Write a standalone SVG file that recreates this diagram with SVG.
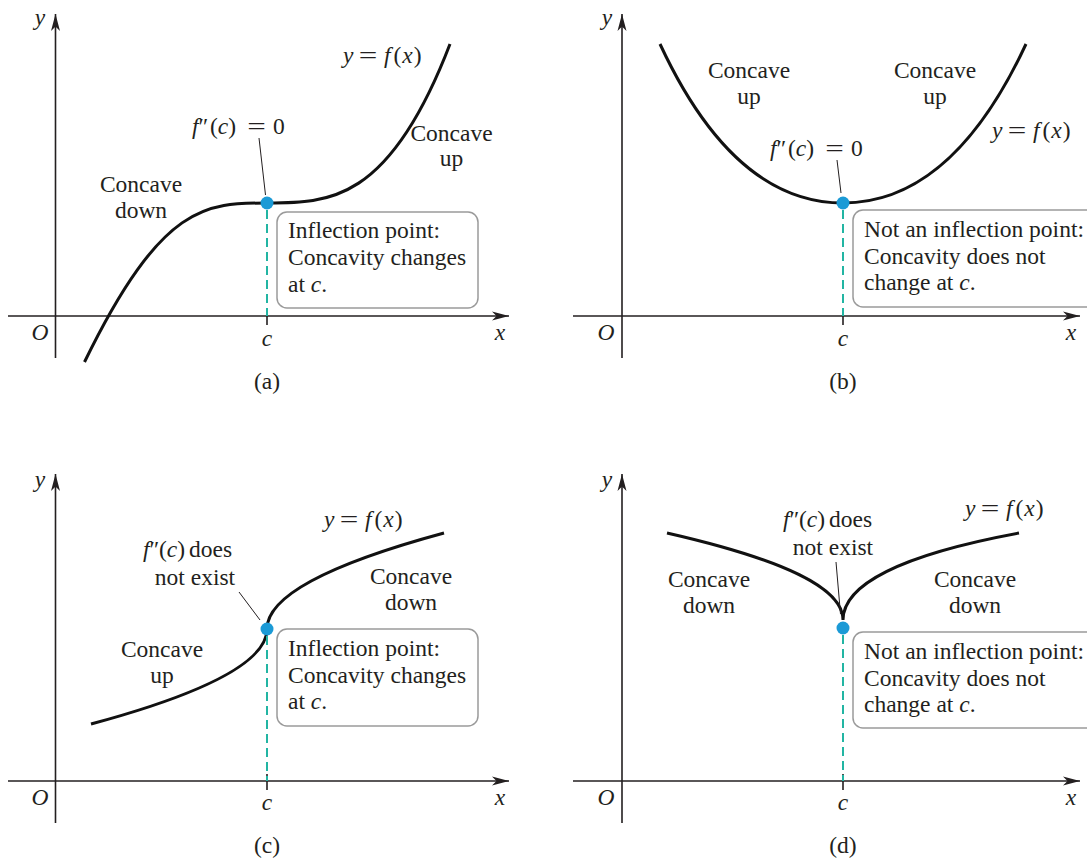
<svg xmlns="http://www.w3.org/2000/svg" width="1087" height="858" viewBox="0 0 1087 858" font-family="'Liberation Serif', 'DejaVu Serif', serif">
<style>
.t{font-family:'Liberation Serif','DejaVu Serif',serif;font-size:23.5px;fill:#231f20}
.i{font-style:italic}
.m{text-anchor:middle}
.ax{stroke:#231f20;stroke-width:1.6;fill:none}
.crv{stroke:#111;stroke-width:3;fill:none;stroke-linecap:butt}
.ld{stroke:#231f20;stroke-width:1;fill:none}
.dash{stroke:#22b5a3;stroke-width:2;stroke-dasharray:9 5;fill:none}
.tick{stroke:#231f20;stroke-width:1.6}
.pt{fill:#1b9ad6}
.box{fill:#fff;stroke:#9a9a9a;stroke-width:1.5}
</style>
<defs>
<marker id="arr" markerUnits="userSpaceOnUse" markerWidth="20" markerHeight="12" viewBox="-18 -6 20 12" refX="0" refY="0" orient="auto">
<path d="M0,0 L-17,-4.5 L-12.5,0 L-17,4.5 Z" fill="#231f20"/>
</marker>
</defs>
<rect width="1087" height="858" fill="#fff"/>

<!-- Panel (a) -->
<g id="panel-a">
<g id="axes-a">
<line class="ax" x1="55.5" y1="358" x2="55.5" y2="14" marker-end="url(#arr)"/>
<line class="ax" x1="8" y1="316" x2="509" y2="316" marker-end="url(#arr)"/>
<line class="tick" x1="267" y1="310" x2="267" y2="325"/>
<text class="t i m" x="40" y="25">y</text>
<text class="t i m" x="40" y="340">O</text>
<text class="t i m" x="500" y="340">x</text>
<text class="t i m" x="267" y="346">c</text>
<text class="t m" x="267" y="389">(a)</text>
</g>
<g id="box-a">
<rect class="box" x="277" y="212" width="201" height="96" rx="10"/>
<text class="t" x="288" y="238">Inflection point:</text>
<text class="t" x="288" y="265">Concavity changes</text>
<text class="t" x="288" y="292">at <tspan class="i">c</tspan>.</text>
</g>
<path class="crv" d="M84.5,362 C162,203 206.3,203 267.25,203 C328.2,203 389.1,203 450,44"/>
<line class="dash" x1="267" y1="210" x2="267" y2="316"/>
<circle class="pt" cx="267" cy="203" r="6.5"/>
<g id="labels-a">
<text class="t m" x="141" y="192">Concave</text>
<text class="t m" x="141" y="218">down</text>
<text class="t m" x="451.5" y="141">Concave</text>
<text class="t m" x="451.5" y="166">up</text>
<text class="t" x="343" y="63"><tspan class="i">y</tspan><tspan x="384" class="i">f</tspan><tspan dx="3">(</tspan><tspan class="i" dx="1">x</tspan><tspan dx="1">)</tspan></text>
<text class="t m" transform="translate(368,63) scale(1.4,1)">=</text>
<text class="t" x="192" y="134"><tspan class="i">f</tspan>″<tspan x="210">(</tspan><tspan class="i">c</tspan>)<tspan x="273">0</tspan></text>
<text class="t m" transform="translate(256.5,134) scale(1.4,1)">=</text>
</g>
</g>

<!-- Panel (b) -->
<g id="panel-b">
<g id="axes-b">
<line class="ax" x1="622" y1="358" x2="622" y2="14" marker-end="url(#arr)"/>
<line class="ax" x1="573" y1="316" x2="1080" y2="316" marker-end="url(#arr)"/>
<line class="tick" x1="843" y1="310" x2="843" y2="325"/>
<text class="t i m" x="607" y="25">y</text>
<text class="t i m" x="606" y="340">O</text>
<text class="t i m" x="1071" y="340">x</text>
<text class="t i m" x="843" y="346">c</text>
<text class="t m" x="843" y="389">(b)</text>
</g>
<g id="box-b">
<rect class="box" x="853" y="210" width="260" height="97" rx="10"/>
<text class="t" x="864" y="237">Not an inflection point:</text>
<text class="t" x="864" y="264">Concavity does not</text>
<text class="t" x="864" y="290">change at <tspan class="i">c</tspan>.</text>
</g>
<path class="crv" d="M660,44 C713,158 776,203 843,203 C910,203 973,158 1026,44"/>
<line class="dash" x1="843" y1="210" x2="843" y2="316"/>
<circle class="pt" cx="843" cy="203" r="6.5"/>
<g id="labels-b">
<text class="t m" x="749" y="78">Concave</text>
<text class="t m" x="749" y="104">up</text>
<text class="t m" x="935" y="78">Concave</text>
<text class="t m" x="935" y="104">up</text>
<text class="t" x="992" y="138"><tspan class="i">y</tspan><tspan x="1033" class="i">f</tspan><tspan dx="3">(</tspan><tspan class="i" dx="1">x</tspan><tspan dx="1">)</tspan></text>
<text class="t m" transform="translate(1017,138) scale(1.4,1)">=</text>
<text class="t" x="770" y="156"><tspan class="i">f</tspan>″<tspan x="788">(</tspan><tspan class="i">c</tspan>)<tspan x="851">0</tspan></text>
<text class="t m" transform="translate(834.5,156) scale(1.4,1)">=</text>
</g>
</g>

<!-- Panel (c) -->
<g id="panel-c">
<g id="axes-c">
<line class="ax" x1="55.5" y1="823" x2="55.5" y2="474" marker-end="url(#arr)"/>
<line class="ax" x1="8" y1="781" x2="509" y2="781" marker-end="url(#arr)"/>
<line class="tick" x1="267" y1="774" x2="267" y2="790"/>
<text class="t i m" x="40" y="487">y</text>
<text class="t i m" x="40" y="805">O</text>
<text class="t i m" x="500" y="805">x</text>
<text class="t i m" x="267" y="810">c</text>
<text class="t m" x="267" y="853">(c)</text>
</g>
<g id="box-c">
<rect class="box" x="277" y="629" width="201" height="97" rx="10"/>
<text class="t" x="288" y="656">Inflection point:</text>
<text class="t" x="288" y="683">Concavity changes</text>
<text class="t" x="288" y="709">at <tspan class="i">c</tspan>.</text>
</g>
<path class="crv" d="M91,724 Q267,676.5 267,629 Q267,581 444,533"/>
<line class="dash" x1="267" y1="636" x2="267" y2="781"/>
<circle class="pt" cx="267" cy="629" r="6.5"/>
<g id="labels-c">
<text class="t m" x="411" y="584">Concave</text>
<text class="t m" x="411" y="610">down</text>
<text class="t m" x="162" y="657">Concave</text>
<text class="t m" x="162" y="683">up</text>
<text class="t" x="324" y="527"><tspan class="i">y</tspan><tspan x="365" class="i">f</tspan><tspan dx="3">(</tspan><tspan class="i" dx="1">x</tspan><tspan dx="1">)</tspan></text>
<text class="t m" transform="translate(349,527) scale(1.4,1)">=</text>
<text class="t" x="143" y="557"><tspan class="i">f</tspan>″<tspan x="159">(</tspan><tspan class="i">c</tspan>)<tspan x="189">does</tspan></text>
<text class="t m" x="195" y="585">not exist</text>
</g>
</g>

<!-- Panel (d) -->
<g id="panel-d">
<g id="axes-d">
<line class="ax" x1="622" y1="823" x2="622" y2="474" marker-end="url(#arr)"/>
<line class="ax" x1="573" y1="781" x2="1080" y2="781" marker-end="url(#arr)"/>
<line class="tick" x1="843" y1="774" x2="843" y2="790"/>
<text class="t i m" x="607" y="487">y</text>
<text class="t i m" x="606" y="805">O</text>
<text class="t i m" x="1071" y="805">x</text>
<text class="t i m" x="843" y="810">c</text>
<text class="t m" x="843" y="853">(d)</text>
</g>
<g id="box-d">
<rect class="box" x="853" y="632" width="260" height="96" rx="10"/>
<text class="t" x="864" y="659">Not an inflection point:</text>
<text class="t" x="864" y="686">Concavity does not</text>
<text class="t" x="864" y="712">change at <tspan class="i">c</tspan>.</text>
</g>
<path class="crv" d="M667,533 C785,560 843,588 843,620 C843,585 900,555 1019,533"/>
<line class="dash" x1="843" y1="635" x2="843" y2="781"/>
<circle class="pt" cx="843" cy="628" r="6.5"/>
<g id="labels-d">
<text class="t m" x="709" y="587">Concave</text>
<text class="t m" x="709" y="613">down</text>
<text class="t m" x="975" y="587">Concave</text>
<text class="t m" x="975" y="613">down</text>
<text class="t" x="965" y="516"><tspan class="i">y</tspan><tspan x="1006" class="i">f</tspan><tspan dx="3">(</tspan><tspan class="i" dx="1">x</tspan><tspan dx="1">)</tspan></text>
<text class="t m" transform="translate(990,516) scale(1.4,1)">=</text>
<text class="t" x="783" y="527"><tspan class="i">f</tspan>″<tspan x="799">(</tspan><tspan class="i">c</tspan>)<tspan x="829">does</tspan></text>
<text class="t m" x="833" y="555">not exist</text>
</g>
</g>

<!-- Connectors: leader lines -->
<g id="connectors">
<line class="ld" x1="259" y1="138" x2="265.5" y2="195"/>
<line class="ld" x1="837" y1="160" x2="841" y2="193"/>
<line class="ld" x1="239" y1="592" x2="260" y2="620"/>
<line class="ld" x1="836" y1="562" x2="840.5" y2="614"/>
</g>
</svg>
